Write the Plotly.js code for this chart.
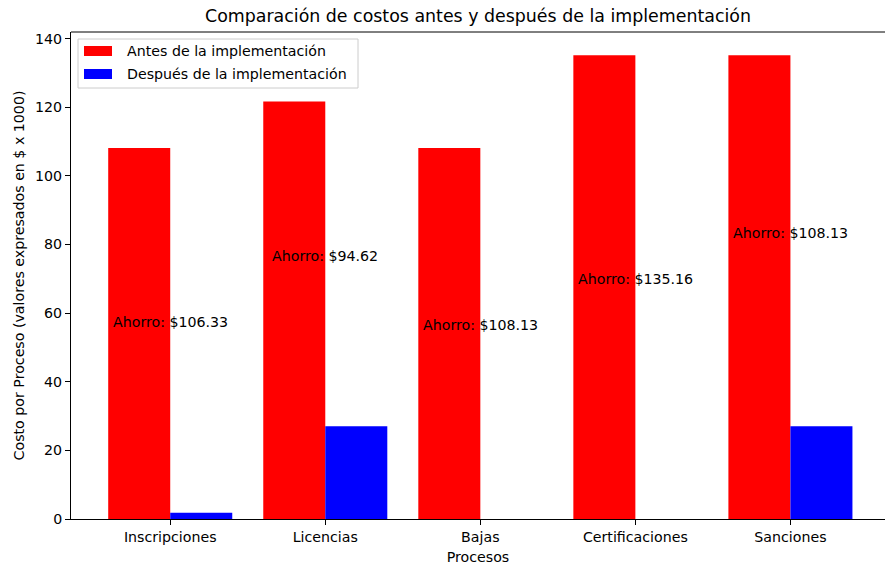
<!DOCTYPE html>
<html>
<head>
<meta charset="utf-8">
<script src="https://cdn.plot.ly/plotly-3.0.1.min.js"></script>
<style>html,body{margin:0;padding:0;background:#fff;}#chart{width:885px;height:567px;}</style>
</head>
<body>
<div id="chart"></div>
<script>
const categories = ["Inscripciones", "Licencias", "Bajas", "Certificaciones", "Sanciones"];
const antes = [108.13, 121.67, 108.13, 135.16, 135.16];
const despues = [1.80, 27.05, 0, 0, 27.03];
const ahorro = [106.33, 94.62, 108.13, 135.16, 108.13];
const seriesNames = ["Antes de la implementación", "Después de la implementación"];
const seriesColors = ["#ff0000", "#0000ff"];

const font = "DejaVu Sans, sans-serif";
const fs = 14.2;

const traces = [
  {type: "bar", name: seriesNames[0], x: categories, y: antes,
   marker: {color: seriesColors[0], line: {width: 0}}, hoverinfo: "skip"},
  {type: "bar", name: seriesNames[1], x: categories, y: despues,
   marker: {color: seriesColors[1], line: {width: 0}}, hoverinfo: "skip"}
];

const annotations = categories.map((c, i) => ({
  x: c, y: despues[i] + ahorro[i] / 2, xref: "x", yref: "y",
  text: "Ahorro: $" + ahorro[i].toFixed(2),
  showarrow: false, xanchor: "center", yanchor: "bottom", yshift: -2,
  font: {family: font, size: fs, color: "#000"}
}));

// plot area: x 71..885, y 32..519 (pixels)
const px = v => (v - 71) / 814;
const py = v => (519 - v) / 487;

const shapes = [
  {type: "line", xref: "paper", yref: "paper", x0: 0, x1: 1, y0: 1, y1: 1,
   line: {color: "#000", width: 1}},
  {type: "rect", xref: "paper", yref: "paper", x0: px(78), x1: px(358), y0: py(88), y1: py(39),
   fillcolor: "rgba(255,255,255,0.8)", line: {color: "#cccccc", width: 1}}
];
const legendRows = [51, 74];
seriesNames.forEach((n, i) => {
  shapes.push({type: "rect", xref: "paper", yref: "paper",
    x0: px(84), x1: px(112), y0: py(legendRows[i] + 5), y1: py(legendRows[i] - 5),
    fillcolor: seriesColors[i], line: {width: 0}});
  annotations.push({xref: "paper", yref: "paper", x: px(125), y: py(legendRows[i]),
    xanchor: "left", yanchor: "middle", showarrow: false, text: n,
    font: {family: font, size: fs, color: "#000"}});
});

const layout = {
  width: 885, height: 567,
  margin: {l: 71, r: 0, t: 32, b: 48},
  paper_bgcolor: "#fff", plot_bgcolor: "#fff",
  font: {family: font, size: fs, color: "#000"},
  title: {text: "Comparación de costos antes y después de la implementación",
          font: {family: font, size: 17.4, color: "#000"},
          x: 0.5, xref: "paper", xanchor: "center", y: 0.972, yanchor: "middle"},
  barmode: "group", bargap: 0.2, bargroupgap: 0,
  xaxis: {type: "category", range: [-0.64, 4.61], showgrid: false, zeroline: false,
          showline: true, linecolor: "#000", linewidth: 1,
          ticks: "outside", ticklen: 5, tickcolor: "#000", tickwidth: 1,
          tickfont: {family: font, size: fs, color: "#000"},
          title: {text: "Procesos", font: {family: font, size: fs, color: "#000"}, standoff: 8},
          fixedrange: true},
  yaxis: {range: [0, 141.92], tickvals: [0, 20, 40, 60, 80, 100, 120, 140],
          showgrid: false, zeroline: false,
          showline: true, linecolor: "#000", linewidth: 1,
          ticks: "outside", ticklen: 5, tickcolor: "#000", tickwidth: 1,
          tickfont: {family: font, size: fs, color: "#000"},
          title: {text: "Costo por Proceso (valores expresados en $ x 1000)",
                  font: {family: font, size: fs, color: "#000"}, standoff: 7},
          fixedrange: true},
  showlegend: false,
  shapes: shapes,
  annotations: annotations
};

Plotly.newPlot("chart", traces, layout, {displayModeBar: false, staticPlot: true});
</script>
</body>
</html>
